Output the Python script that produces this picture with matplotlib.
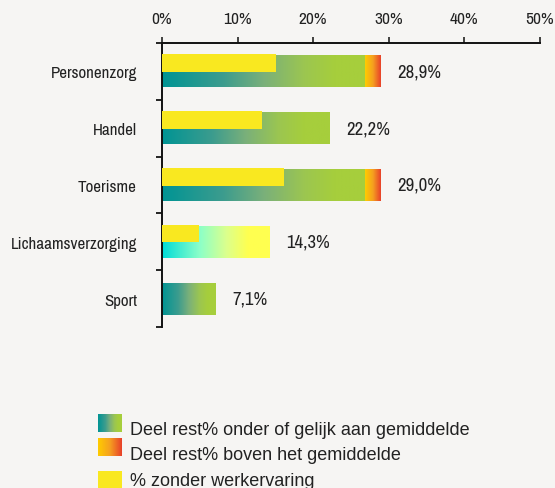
import numpy as np
import matplotlib
matplotlib.use("Agg")
import matplotlib.pyplot as plt
from matplotlib.colors import LinearSegmentedColormap

# ---- data ----
categories = ["Personenzorg", "Handel", "Toerisme", "Lichaamsverzorging", "Sport"]
below_avg = [26.9, 22.2, 26.9, 14.3, 7.1]      # Deel rest% onder of gelijk aan gemiddelde
above_avg = [2.0, 0.0, 2.1, 0.0, 0.0]          # Deel rest% boven het gemiddelde
no_experience = [15.1, 13.2, 16.2, 4.9, 0.0]   # % zonder werkervaring
x_ticks = [0, 10, 20, 30, 40, 50]
legend_labels = ["Deel rest% onder of gelijk aan gemiddelde",
                 "Deel rest% boven het gemiddelde",
                 "% zonder werkervaring"]

BG = "#f6f5f3"
TXT = "#222222"
YELLOW = "#f9e820"
cm_main = LinearSegmentedColormap.from_list(
    "main", [(0, "#009494"), (0.3, "#3c9c8e"), (0.5, "#7ab07a"),
             (0.7, "#9cc650"), (0.85, "#a6ce3c"), (1, "#a6ce3c")])
cm_light = LinearSegmentedColormap.from_list(
    "light", [(0, "#00dcd8"), (0.35, "#8cffc8"), (0.6, "#dcff8c"),
              (0.8, "#ffff50"), (1, "#ffff50")])
cm_hot = LinearSegmentedColormap.from_list(
    "hot", [(0, "#ffcc00"), (0.5, "#f5a020"), (1, "#e8402a")])
special = {3: cm_light}

NARROW = ["Archivo Narrow", "DejaVu Sans"]
REG = ["Liberation Sans", "DejaVu Sans"]

W, H = 555, 489
fig = plt.figure(figsize=(W / 100, H / 100), dpi=100, facecolor=BG)
ax = fig.add_axes([162 / W, 1 - 328 / H, (539.5 - 162) / W, (328 - 44) / H])
ax.set_facecolor(BG)


def grad(a, cmap, x0, x1, yc, h, z=2):
    if x1 <= x0:
        return
    img = cmap(np.linspace(0, 1, 256))[None, :, :3]
    a.imshow(img, extent=(x0, x1, yc + h / 2, yc - h / 2), aspect="auto",
             interpolation="bilinear", zorder=z)


bar_h = 0.56
yel_h = 0.31
n = len(categories)
for i in range(n):
    cmap = special.get(i, cm_main)
    grad(ax, cmap, 0, below_avg[i], i, bar_h)
    grad(ax, cm_hot, below_avg[i], below_avg[i] + above_avg[i], i, bar_h)
    if no_experience[i] > 0:
        top = i - bar_h / 2 - 0.02
        ax.barh(top + yel_h / 2, no_experience[i], height=yel_h, color=YELLOW,
                zorder=3, linewidth=0)
    total = below_avg[i] + above_avg[i]
    ax.annotate(f"{total:.1f}%".replace(".", ","), xy=(total, i), xytext=(12, 0),
                textcoords="offset points", va="center", ha="left",
                fontsize=13.5, color=TXT, family=NARROW)

ax.set_xlim(0, 50)
ax.set_ylim(n - 0.5, -0.5)
ax.xaxis.tick_top()
ax.set_xticks(x_ticks)
ax.set_xticklabels([f"{t}%" for t in x_ticks], family=NARROW, fontsize=12.5,
                   color=TXT)
ax.tick_params(axis="x", direction="out", length=4, width=1.2, pad=8, colors=TXT)
ax.set_yticks(range(n))
ax.set_yticklabels(categories, family=NARROW, fontsize=12.2, color=TXT)
ax.set_yticks(np.arange(-0.5, n, 1), minor=True)
ax.tick_params(axis="y", which="major", length=0, pad=18)
ax.tick_params(axis="y", which="minor", length=4, width=1.2, direction="out")
for s in ["right", "bottom"]:
    ax.spines[s].set_visible(False)
for s in ["top", "left"]:
    ax.spines[s].set_linewidth(1.4)
    ax.spines[s].set_color("#111111")

# ---- legend (figure pixel coordinates overlay) ----
lg = fig.add_axes([0, 0, 1, 1], facecolor="none")
lg.set_xlim(0, W)
lg.set_ylim(H, 0)
lg.axis("off")
patch_rows = [(415, 433), (439, 457), (472, 490)]
text_base = [435, 460, 486]
cmaps_leg = [cm_main, cm_hot, None]
for (y0, y1), tb, lab, cm in zip(patch_rows, text_base, legend_labels, cmaps_leg):
    if cm is None:
        lg.add_patch(plt.Rectangle((98, y0), 24, y1 - y0, color=YELLOW, lw=0))
    else:
        img = cm(np.linspace(0, 1, 256))[None, :, :3]
        lg.imshow(img, extent=(98, 122, y1, y0), aspect="auto", interpolation="bilinear")
    lg.text(130, tb, lab, family=REG, fontsize=13, color=TXT, va="baseline", ha="left")
lg.set_xlim(0, W)
lg.set_ylim(H, 0)

fig.savefig("out.png", dpi=100, facecolor=BG)
